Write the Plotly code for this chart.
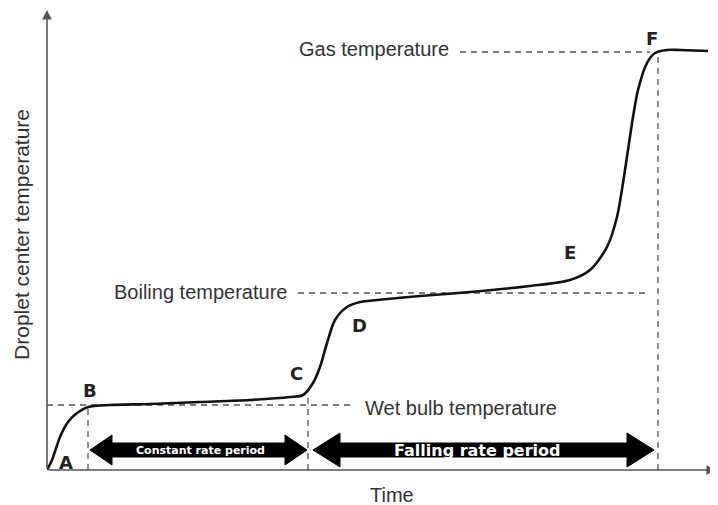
import plotly.graph_objects as go

# droplet centre temperature curve (time, temperature) in chart units
curve_time = [0, 5, 13, 21, 30, 41, 63, 103, 153, 203, 243, 256, 266, 273, 280, 288,
              300, 313, 330, 373, 423, 483, 523, 543, 560, 570, 576, 581, 586, 591,
              600, 608, 620, 633, 661]
curve_temp = [0, 10, 33, 48, 57, 63, 65, 66, 68, 70, 73, 75, 87, 103, 127, 150,
              163, 168, 170, 174, 178, 184, 190, 200, 223, 253, 287, 320, 353, 380,
              407, 417, 420, 420, 419]

# reference temperature levels and where their dashed guides run
level_names = ["Wet bulb temperature", "Boiling temperature", "Gas temperature"]
level_temp = [65, 177, 418]
level_start = [0, 251, 413]
level_end = [308, 600, 603]

# stage markers A-F
point_names = ["A", "B", "C", "D", "E", "F"]
point_time = [19, 43, 249, 312, 523, 605]
point_temp = [8, 80, 97, 145, 218, 432]

# vertical guides at B, C and F
guide_time = [41, 261, 611]
guide_temp = [63, 74, 415]

# drying periods (start, end) along the time axis
period_names = ["Constant rate period", "Falling rate period"]
period_start = [43, 266]
period_end = [260, 607]
period_temp = 20

fig = go.Figure()

dash_style = dict(color="#555555", width=1.3, dash="6px,5px")

for t0, t1, lv in zip(level_start, level_end, level_temp):
    fig.add_trace(go.Scatter(x=[t0, t1], y=[lv, lv], mode="lines", line=dash_style,
                             hoverinfo="skip"))

for gt, gy in zip(guide_time, guide_temp):
    fig.add_trace(go.Scatter(x=[gt, gt], y=[0, gy], mode="lines", line=dash_style,
                             hoverinfo="skip"))

# double-headed block arrows
def block_arrow(x0, x1, yc, body=7, head=16, hl=24):
    xs = [x0, x0 + hl, x0 + hl, x1 - hl, x1 - hl, x1, x1 - hl, x1 - hl, x0 + hl, x0 + hl, x0]
    ys = [yc, yc + head, yc + body, yc + body, yc + head, yc, yc - head, yc - body,
          yc - body, yc - head, yc]
    return xs, ys

for i, (s, e) in enumerate(zip(period_start, period_end)):
    hl = 22 if i == 0 else 27
    head = 15 if i == 0 else 17
    xs, ys = block_arrow(s, e, period_temp, head=head, hl=hl)
    fig.add_trace(go.Scatter(x=xs, y=ys, mode="lines", fill="toself", fillcolor="black",
                             line=dict(color="black", width=1), hoverinfo="skip"))

fig.add_trace(go.Scatter(x=curve_time, y=curve_temp, mode="lines",
                         line=dict(color="#111111", width=2.6, shape="spline", smoothing=0.8),
                         hoverinfo="skip"))

# period labels inside the arrows
fig.add_annotation(x=(period_start[0] + period_end[0]) / 2 + 2, y=period_temp,
                   text="<b>" + period_names[0] + "</b>", showarrow=False,
                   font=dict(family="DejaVu Sans", size=11, color="white"))
fig.add_annotation(x=(period_start[1] + period_end[1]) / 2 - 6, y=period_temp,
                   text="<b>" + period_names[1] + "</b>", showarrow=False,
                   font=dict(family="DejaVu Sans", size=16, color="white"))

# level labels
fig.add_annotation(x=level_start[0] + 316, y=level_temp[0] - 3, text=level_names[0],
                   showarrow=False, xanchor="left",
                   font=dict(family="Liberation Sans", size=20, color="#333333"))
fig.add_annotation(x=level_start[1] - 9, y=level_temp[1] + 1, text=level_names[1],
                   showarrow=False, xanchor="right",
                   font=dict(family="Liberation Sans", size=20, color="#333333"))
fig.add_annotation(x=level_start[2] - 9, y=level_temp[2] + 3, text=level_names[2],
                   showarrow=False, xanchor="right",
                   font=dict(family="Liberation Sans", size=20, color="#333333"))

for n, t, v in zip(point_names, point_time, point_temp):
    fig.add_annotation(x=t, y=v, text="<b>" + n + "</b>", showarrow=False,
                       font=dict(family="DejaVu Sans", size=18, color="#222222"))

# axes drawn as arrows
fig.add_annotation(x=0, y=460, ax=0, ay=0, xref="x", yref="y", axref="x", ayref="y",
                   text="", showarrow=True, arrowhead=2, arrowsize=1.2, arrowwidth=1.6,
                   arrowcolor="#555555")
fig.add_annotation(x=669, y=0, ax=0, ay=0, xref="x", yref="y", axref="x", ayref="y",
                   text="", showarrow=True, arrowhead=2, arrowsize=1.2, arrowwidth=1.6,
                   arrowcolor="#555555")

# axis titles (paper coordinates)
fig.add_annotation(x=0.516, y=-0.054, xref="paper", yref="paper", text="Time",
                   showarrow=False, xanchor="center", yanchor="middle",
                   font=dict(family="Liberation Sans", size=20, color="#333333"))
fig.add_annotation(x=-0.039, y=0.513, xref="paper", yref="paper",
                   text="Droplet center temperature", showarrow=False, textangle=-90,
                   xanchor="center", yanchor="middle",
                   font=dict(family="Liberation Sans", size=21, color="#333333"))

# page body adds an 8px offset, so the figure is sized to fit inside it
fig.update_layout(
    width=710, height=497,
    margin=dict(l=39, r=2, t=2, b=35, autoexpand=False),
    plot_bgcolor="white", paper_bgcolor="white",
    showlegend=False,
    xaxis=dict(range=[0, 669], visible=False, fixedrange=True),
    yaxis=dict(range=[0, 460], visible=False, fixedrange=True),
)

fig.write_html("out.html")
